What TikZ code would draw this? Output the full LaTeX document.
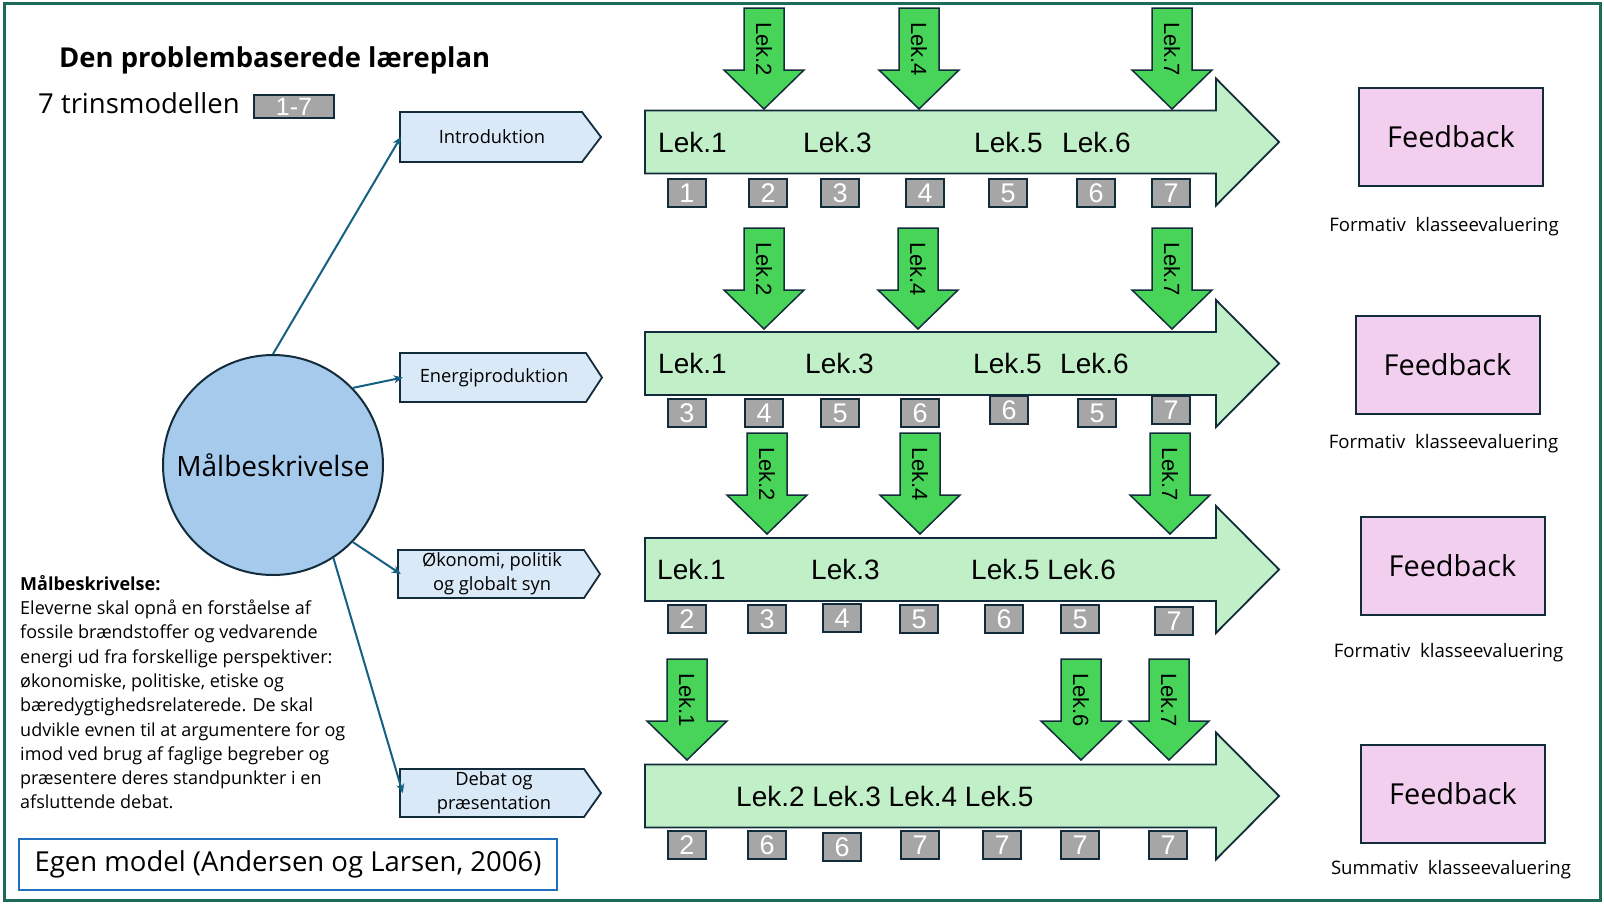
\documentclass[tikz,border=0pt]{standalone}
\usepackage{fontspec}
\setmainfont{Open Sans}
\newfontfamily\arialf{Liberation Sans}
\usetikzlibrary{arrows.meta,calc}
\definecolor{framegreen}{RGB}{30,107,90}
\definecolor{darkline}{RGB}{18,44,60}
\definecolor{pentfill}{RGB}{218,233,247}
\definecolor{circfill}{RGB}{166,202,236}
\definecolor{conncol}{RGB}{21,96,130}
\definecolor{bigfill}{RGB}{193,240,200}
\definecolor{downfill}{RGB}{71,212,89}
\definecolor{boxgray}{RGB}{166,166,166}
\definecolor{fbpink}{RGB}{242,206,239}
\definecolor{citeblue}{RGB}{32,112,192}
\tikzset{
 bigarrow/.style={fill=bigfill, draw=darkline, line width=1.8pt},
 downarr/.style={fill=downfill, draw=darkline, line width=1.5pt},
 lekv/.style={rotate=-90, font=\arialf\fontsize{22}{26}\selectfont, inner sep=0},
 lekh/.style={anchor=west, font=\arialf\fontsize{28}{32}\selectfont, inner sep=0},
 numbox/.style={fill=boxgray, draw=darkline, line width=1.8pt, minimum width=38pt, minimum height=28pt, inner sep=0, text=white, font=\arialf\fontsize{27}{28}\selectfont},
 pentshape/.style={fill=pentfill, draw=darkline, line width=1.8pt},
 pent/.style={minimum width=182pt, minimum height=50pt, inner sep=0, align=center, font=\fontsize{18.3}{24}\selectfont},
 fbbox/.style={fill=fbpink, draw=darkline, line width=2pt, minimum width=184pt, minimum height=98pt, inner sep=0, font=\fontsize{28.9}{32}\selectfont},
 evalcap/.style={font=\fontsize{18.6}{22}\selectfont, inner sep=0},
 conn/.style={draw=conncol, line width=2pt, -{Stealth[length=9pt,width=8pt]}},
}
\newcommand\BigArrow[1]{%
 \draw[bigarrow] (645,#1-31.5) -- (1216,#1-31.5) -- (1216,#1-63.5) -- (1279,#1) -- (1216,#1+63.5) -- (1216,#1+31.5) -- (645,#1+31.5) -- cycle;}
\newcommand\LekDown[4]{%
 \draw[downarr] (#2-20,#3) -- (#2+20,#3) -- (#2+20,#3+62) -- (#2+40,#3+62) -- (#2,#3+101) -- (#2-40,#3+62) -- (#2-20,#3+62) -- cycle;
 \node[lekv] (#1) at (#2,#3+41) {#4};}
\begin{document}
\begin{tikzpicture}[x=1pt,y=-1pt]
\useasboundingbox (0,0) rectangle (1604,903);
\draw[framegreen, line width=3pt] (4,3) rectangle (1600,900);

% titles
\node[anchor=base west, inner sep=0, font=\bfseries\fontsize{27.4}{30}\selectfont] (title) at (59,67) {Den problembaserede læreplan};
\node[anchor=base west, inner sep=0, font=\fontsize{27.5}{30}\selectfont] (trin) at (38,113) {7 trinsmodellen};
\node[numbox, minimum width=80pt, minimum height=23pt, font=\arialf\fontsize{25}{26}\selectfont] (legend) at (294,106.5) {1-7};

% circle
\node[circle, fill=circfill, draw=darkline, line width=2pt, minimum size=220pt, inner sep=0, font=\fontsize{28}{30}\selectfont] (mal) at (273,465) {Målbeskrivelse};

% pentagons
\draw[pentshape] (400,112) -- (582,112) -- (601,137) -- (582,162) -- (400,162) -- cycle;
\node[pent] (intro) at (492,137) {Introduktion};
\draw[pentshape] (400,353) -- (586,353) -- (602,377.5) -- (586,402) -- (400,402) -- cycle;
\node[pent] (energi) at (494,377.5) {Energiproduktion};
\draw[pentshape] (398,550) -- (584,550) -- (600,574) -- (584,598) -- (398,598) -- cycle;
\node[pent] (oko) at (492,574) {Økonomi, politik\\og globalt syn};
\draw[pentshape] (400,769) -- (584,769) -- (601,793) -- (584,817) -- (400,817) -- cycle;
\node[pent] (debat) at (494,793) {Debat og\\præsentation};

% connectors
\draw[conn] (mal.90) -- (intro.west);
\draw[conn] (mal.44) -- (energi.west);
\draw[conn] (mal.-44) -- (oko.west);
\draw[conn] (mal.-57) -- (debat.west);

% big arrows
\BigArrow{142}
\BigArrow{363.5}
\BigArrow{569.5}
\BigArrow{796}

% down arrows
\LekDown{a12}{764}{8}{Lek.2}
\LekDown{a14}{919}{8}{Lek.4}
\LekDown{a17}{1172}{8}{Lek.7}
\LekDown{a22}{764}{228}{Lek.2}
\LekDown{a24}{918}{228}{Lek.4}
\LekDown{a27}{1172}{228}{Lek.7}
\LekDown{a32}{767}{433}{Lek.2}
\LekDown{a34}{920}{433}{Lek.4}
\LekDown{a37}{1170}{433}{Lek.7}
\LekDown{a41}{687}{659}{Lek.1}
\LekDown{a46}{1081}{659}{Lek.6}
\LekDown{a47}{1169}{659}{Lek.7}

% labels in big arrows
\node[lekh] (l11) at (658,142) {Lek.1};
\node[lekh] (l13) at (803,142) {Lek.3};
\node[lekh] (l15) at (974,142) {Lek.5};
\node[lekh] (l16) at (1062,142) {Lek.6};
\node[lekh] (l21) at (658,363) {Lek.1};
\node[lekh] (l23) at (805,363) {Lek.3};
\node[lekh] (l25) at (973,363) {Lek.5};
\node[lekh] (l26) at (1060,363) {Lek.6};
\node[lekh] (l31) at (657,569) {Lek.1};
\node[lekh] (l33) at (811,569) {Lek.3};
\node[lekh] (l356) at (971,569) {Lek.5 Lek.6};
\node[lekh] (l42) at (736,796) {Lek.2 Lek.3 Lek.4 Lek.5};

% number boxes
\foreach \x/\n [count=\i] in {687/1,768/2,840/3,925/4,1008/5,1096/6,1171/7}
  \node[numbox] (r1b\i) at (\x,193) {\n};
\foreach \x/\y/\n [count=\i] in {687/413/3,764/413/4,840/413/5,920/413/6,1009/410/6,1097/413/5,1171/410/7}
  \node[numbox] (r2b\i) at (\x,\y) {\n};
\foreach \x/\y/\n [count=\i] in {687/619/2,767/619/3,842/618/4,919/619/5,1004/619/6,1080/619/5,1174/621/7}
  \node[numbox] (r3b\i) at (\x,\y) {\n};
\foreach \x/\y/\n [count=\i] in {687/845/2,767/845/6,842/847/6,920/845/7,1002/845/7,1080/845/7,1168/845/7}
  \node[numbox] (r4b\i) at (\x,\y) {\n};

% feedback
\node[fbbox] (fb1) at (1451,137) {Feedback};
\node[fbbox] (fb2) at (1447.5,364.5) {Feedback};
\node[fbbox] (fb3) at (1452.5,565.5) {Feedback};
\node[fbbox] (fb4) at (1453,793.5) {Feedback};
\node[evalcap] (c1) at (1444,227) {Formativ\ \ klasseevaluering};
\node[evalcap] (c2) at (1443.5,444) {Formativ\ \ klasseevaluering};
\node[evalcap] (c3) at (1448.5,653) {Formativ\ \ klasseevaluering};
\node[evalcap] (c4) at (1451,870) {Summativ\ \ klasseevaluering};

% description
\node[anchor=north west, align=left, inner sep=0, font=\fontsize{18}{24.3}\selectfont] (desc) at (20,575) {\textbf{Målbeskrivelse:}\\
Eleverne skal opnå en forståelse af\\
fossile brændstoffer og vedvarende\\
energi ud fra forskellige perspektiver:\\
økonomiske, politiske, etiske og\\
bæredygtighedsrelaterede. De skal\\
udvikle evnen til at argumentere for og\\
imod ved brug af faglige begreber og\\
præsentere deres standpunkter i en\\
afsluttende debat.};

% citation
\node[draw=citeblue, line width=2.5pt, fill=white, minimum width=538pt, minimum height=51pt, inner sep=0, font=\fontsize{27.5}{32}\selectfont] (cite) at (288,864.5) {Egen model (Andersen og Larsen, 2006)};
\end{tikzpicture}
\end{document}
